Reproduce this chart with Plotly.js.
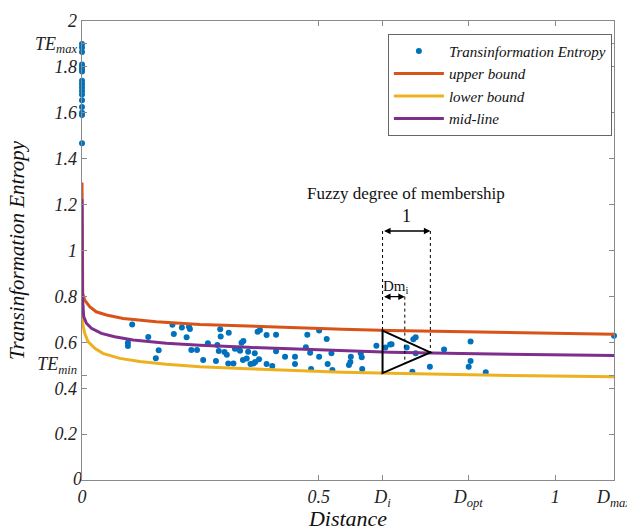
<!DOCTYPE html>
<html>
<head>
<meta charset="utf-8">
<script src="https://cdn.plot.ly/plotly-3.0.1.min.js"></script>
<style>html,body{margin:0;padding:0;background:#fff;}#chart{width:627px;height:531px;}</style>
</head>
<body>
<div id="chart"></div>
<script>
// ---- data ----
const D_i = 0.635, D_opt = 0.816, D_max = 1.124;
const TE_min = 0.455, TE_max = 1.903;

const xTickVals = [0, 0.5, D_i, D_opt, 1, D_max];
const xTickText = ['<i>0</i>', '<i>0.5</i>', '<i>D<sub>i</sub></i>', '<i>D<sub>opt</sub></i>', '<i>1</i>', '<i>D<sub>max</sub></i>'];
const yTickVals = [0.2, 0.4, TE_min, 0.6, 0.8, 1, 1.2, 1.4, 1.6, 1.8, TE_max, 2];
const yTickText = ['<i>0.2</i>', '<i>0.4</i>', '<i>TE<sub>min</sub></i><br> ', '<i>0.6</i>', '<i>0.8</i>', '<i>1</i>', '<i>1.2</i>', '<i>1.4</i>', '<i>1.6</i>', '<i>1.8</i>', '<i>TE<sub>max</sub></i>', '<i>2</i>'];
const yZeroVal = [0];
const yZeroLabel = ['<i>0</i>'];

// scatter: Transinformation Entropy
const teX = [
  0,0,0,0,0,0,0,0,0,0,0,0,0,0,0,0,0,
  0.106,0.097,0.097,0.140,0.162,0.156,0.191,0.194,0.211,0.226,0.228,0.221,0.231,0.243,0.256,0.266,
  0.283,0.286,0.292,0.293,0.289,0.301,0.306,0.310,0.309,0.320,0.323,0.330,0.334,0.337,0.341,0.340,
  0.348,0.351,0.356,0.362,0.366,0.371,0.376,0.365,0.374,0.390,0.390,0.402,0.410,0.410,0.429,0.450,
  0.450,0.476,0.473,0.482,0.484,0.501,0.501,0.517,0.519,0.527,0.529,0.564,0.568,0.567,0.589,0.591,
  0.592,0.622,0.641,0.651,0.654,0.686,0.700,0.705,0.705,0.698,0.735,0.765,0.821,0.821,0.817,0.853,
  1.124
];
const teY = [
  1.900,1.885,1.865,1.810,1.800,1.790,1.780,1.740,1.725,1.710,1.695,1.680,1.655,1.625,1.600,1.590,1.467,
  0.678,0.598,0.584,0.623,0.565,0.530,0.677,0.636,0.664,0.668,0.658,0.622,0.566,0.566,0.523,0.596,
  0.519,0.588,0.657,0.625,0.562,0.558,0.546,0.642,0.508,0.508,0.572,0.572,0.563,0.598,0.606,0.523,
  0.529,0.559,0.505,0.508,0.514,0.646,0.654,0.552,0.526,0.632,0.505,0.497,0.633,0.561,0.537,0.537,
  0.505,0.633,0.578,0.555,0.484,0.651,0.537,0.614,0.505,0.552,0.479,0.501,0.537,0.514,0.552,0.535,
  0.484,0.585,0.577,0.590,0.591,0.577,0.613,0.622,0.552,0.472,0.494,0.569,0.603,0.519,0.494,0.469,
  0.629
];

// upper bound
const upX = [0, 0.0008, 0.0015, 0.0057, 0.0163, 0.030, 0.0516, 0.087, 0.157, 0.249, 0.35, 0.45, 0.55, 0.651, 0.80, 0.95, 1.124];
const upY = [1.296, 0.90, 0.813, 0.784, 0.755, 0.733, 0.719, 0.704, 0.690, 0.678, 0.670, 0.663, 0.657, 0.651, 0.645, 0.640, 0.635];
// lower bound
const loX = [0, 0.0015, 0.0057, 0.0127, 0.027, 0.044, 0.080, 0.122, 0.178, 0.249, 0.35, 0.45, 0.55, 0.651, 0.80, 0.95, 1.124];
const loY = [0.741, 0.68, 0.639, 0.603, 0.574, 0.552, 0.530, 0.516, 0.504, 0.494, 0.485, 0.477, 0.470, 0.465, 0.459, 0.454, 0.450];
// mid-line
const midX = [0, 0.0008, 0.0036, 0.0093, 0.0199, 0.041, 0.069, 0.108, 0.178, 0.249, 0.35, 0.45, 0.55, 0.651, 0.80, 0.95, 1.124];
const midY = [1.223, 0.80, 0.712, 0.683, 0.661, 0.639, 0.624, 0.610, 0.596, 0.587, 0.578, 0.570, 0.563, 0.557, 0.551, 0.546, 0.542];

// fuzzy membership sketch
const apexX = 0.736, dmX = 0.682;
const triTop = 0.651, triApex = 0.556, triBottom = 0.466, dmBottom = 0.508;
const arrow1Y = 1.085, arrowDmY = 0.799;

const serif = 'Liberation Serif, Times New Roman, serif';
const axisGray = '#8a8a8a';

const traces = [
  {x: teX, y: teY, type: 'scatter', mode: 'markers', name: '<i>Transinformation Entropy</i>',
   marker: {color: '#0072BD', size: 6}, cliponaxis: false},
  {x: upX, y: upY, type: 'scatter', mode: 'lines', name: '<i>upper bound</i>',
   line: {color: '#D95319', width: 3}, cliponaxis: false},
  {x: loX, y: loY, type: 'scatter', mode: 'lines', name: '<i>lower bound</i>',
   line: {color: '#EDB120', width: 3}, cliponaxis: false},
  {x: midX, y: midY, type: 'scatter', mode: 'lines', name: '<i>mid-line</i>',
   line: {color: '#7E2F8E', width: 3}, cliponaxis: false},
  // y-axis "0" tick label (Plotly hides the corner label)
  {x: [0], y: yZeroVal, type: 'scatter', mode: 'text', text: yZeroLabel, textposition: 'middle left',
   textfont: {family: serif, size: 18, color: '#222'}, showlegend: false, cliponaxis: false, hoverinfo: 'skip'}
];

const dotted = {color: '#000', width: 1, dash: 'dot'};
const shapes = [
  {type: 'line', xref: 'x', yref: 'y', x0: D_i, x1: D_i, y0: arrow1Y, y1: triTop, line: dotted},
  {type: 'line', xref: 'x', yref: 'y', x0: apexX, x1: apexX, y0: arrow1Y, y1: triApex, line: dotted},
  {type: 'line', xref: 'x', yref: 'y', x0: dmX, x1: dmX, y0: arrowDmY, y1: dmBottom, line: dotted},
  {type: 'path', xref: 'x', yref: 'y',
   path: 'M ' + D_i + ',' + triTop + ' L ' + apexX + ',' + triApex + ' L ' + D_i + ',' + triBottom + ' Z',
   line: {color: '#000', width: 2}}
];

const annotations = [
  {x: (D_i + apexX) / 2, y: 1.25, xref: 'x', yref: 'y', text: 'Fuzzy degree of membership', showarrow: false,
   font: {family: serif, size: 17, color: '#111'}},
  {x: (D_i + apexX) / 2, y: 1.152, xref: 'x', yref: 'y', text: '1', showarrow: false,
   font: {family: serif, size: 18, color: '#111'}},
  {x: D_i - 0.003, y: 0.84, xref: 'x', yref: 'y', text: 'Dm<sub>i</sub>', showarrow: false,
   xanchor: 'left', font: {family: serif, size: 15, color: '#111'}},
  {x: apexX, y: arrow1Y, ax: D_i, ay: arrow1Y, xref: 'x', yref: 'y', axref: 'x', ayref: 'y', text: '',
   showarrow: true, arrowside: 'end+start', arrowhead: 2, arrowsize: 1, arrowwidth: 1.3, arrowcolor: '#000'},
  {x: dmX, y: arrowDmY, ax: D_i, ay: arrowDmY, xref: 'x', yref: 'y', axref: 'x', ayref: 'y', text: '',
   showarrow: true, arrowside: 'end+start', arrowhead: 2, arrowsize: 1, arrowwidth: 1.3, arrowcolor: '#000'}
];

const layout = {
  width: 627, height: 531,
  margin: {l: 82, r: 13, t: 21, b: 51},
  paper_bgcolor: '#fff', plot_bgcolor: '#fff',
  showlegend: true,
  legend: {x: 0.575, xanchor: 'left', y: 0.972, yanchor: 'top', bgcolor: '#fff',
           bordercolor: '#666', borderwidth: 1, font: {family: serif, size: 15, color: '#111'},
           tracegroupgap: 0, itemwidth: 50},
  xaxis: {range: [0, D_max], tickmode: 'array', tickvals: xTickVals, ticktext: xTickText,
          ticks: 'inside', ticklen: 5, tickcolor: axisGray, showline: true, linecolor: axisGray, linewidth: 1.3,
          mirror: 'ticks', showgrid: false, zeroline: false, ticklabeloverflow: 'allow',
          tickfont: {family: serif, size: 18, color: '#222'},
          title: {text: '<i>Distance</i>', font: {family: serif, size: 22, color: '#111'}, standoff: 4}},
  yaxis: {range: [0, 2], tickmode: 'array', tickvals: yTickVals, ticktext: yTickText,
          ticks: 'inside', ticklen: 5, tickcolor: axisGray, showline: true, linecolor: axisGray, linewidth: 1.3,
          mirror: 'ticks', showgrid: false, zeroline: false, ticklabeloverflow: 'allow',
          tickfont: {family: serif, size: 18, color: '#222'},
          title: {text: '<i>Transinformation Entropy</i>', font: {family: serif, size: 21, color: '#111'}, standoff: 4}},
  shapes: shapes,
  annotations: annotations
};

Plotly.newPlot('chart', traces, layout, {displayModeBar: false, staticPlot: true});
</script>
</body>
</html>
